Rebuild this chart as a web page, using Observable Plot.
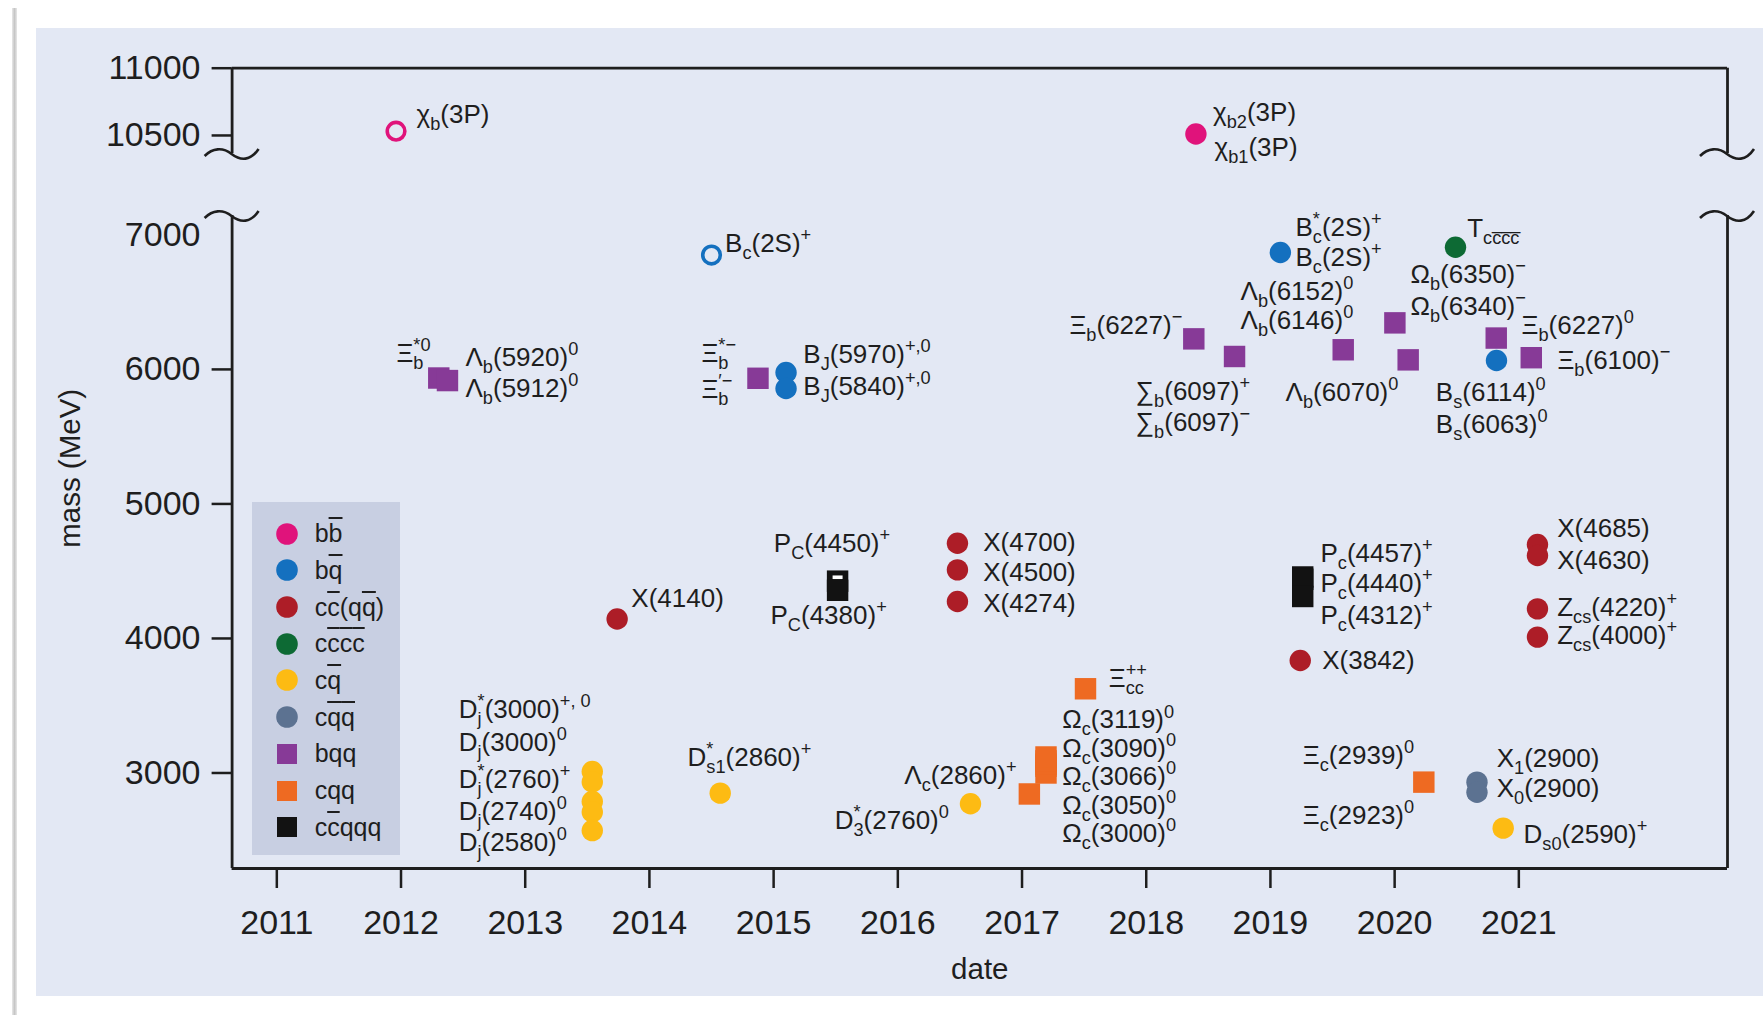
<!DOCTYPE html>
<html><head><meta charset="utf-8">
<script src="https://cdn.jsdelivr.net/npm/d3@7"></script>
<script src="https://cdn.jsdelivr.net/npm/@observablehq/plot@0.6"></script>
<style>
html,body{margin:0;padding:0;background:#fff;overflow:hidden;}
#wrap{position:relative;width:1763px;height:1015px;font-family:"Liberation Sans",Arial,sans-serif;color:#1e1e1e;}
#shadow{position:absolute;left:12px;top:8px;width:5px;height:1007px;background:linear-gradient(to right,#e8e8e8,#c6c6c6,#e8e8e8);}
#panel{position:absolute;left:36px;top:28px;width:1727px;height:968px;background:#e3e8f4;}
#chart{position:absolute;left:0;top:0;width:1763px;height:1015px;}
#legend{position:absolute;left:252px;top:502px;width:148px;height:353px;background:#c8cfe2;}
.lrow{position:absolute;left:0;height:36px;display:flex;align-items:center;font-size:25px;}
.ov{text-decoration:overline;text-decoration-thickness:2px;}
</style></head><body>
<div id="wrap"><div id="shadow"></div><div id="panel"></div><div id="chart"></div><div id="legend"></div></div>
<script>
// ---------- categories ----------
const categories = ["bb\u0305", "bq\u0305", "cc\u0305(qq\u0305)", "cc\u0305c\u0305c\u0305", "cq\u0305", "cq\u0305q\u0305", "bqq", "cqq", "cc\u0305qqq"];
const categoryColors = ["#e0137b", "#1470bf", "#ad1d27", "#0d6a34", "#fdbb13", "#5c7291", "#873a97", "#ee6a22", "#121212"];
const categoryShapes = ["circle", "circle", "circle", "circle", "circle", "circle", "square", "square", "square"];

// ---------- axes ----------
const xDomain = [2010.64, 2022.68];
const yearTicks = [2011, 2012, 2013, 2014, 2015, 2016, 2017, 2018, 2019, 2020, 2021];
const massExtent = [2290, 11000];
const axisGap = [7144, 10366];      // mass range cut out of the axis
const gapShown = 461;               // MeV-equivalent height kept for the cut
const massTicks = [3000, 4000, 5000, 6000, 10500, 11000];
const massTicksNoMark = [7000];

// ---------- points: [date, mass, style] ----------
const bbPoints = [[2011.96, 10532, "open"], [2018.40, 10511]];
const bqPoints = [[2014.50, 6850, "open"], [2015.10, 5977], [2015.10, 5858], [2019.08, 6869], [2020.82, 6066]];
const ccqqPoints = [[2013.74, 4145], [2016.48, 4708], [2016.48, 4510], [2016.48, 4275], [2019.24, 3836],
  [2021.15, 4698], [2021.15, 4617], [2021.15, 4220], [2021.15, 4010]];
const ccccPoints = [[2020.49, 6908]];
const cqPoints = [[2013.54, 3011], [2013.54, 2933], [2013.54, 2788], [2013.54, 2710], [2013.54, 2572],
  [2014.57, 2850], [2016.585, 2771], [2020.874, 2590]];
const cqqbarPoints = [[2020.663, 2932], [2020.663, 2857]];
const bqqPoints = [[2012.304, 5936], [2012.374, 5917], [2014.874, 5934], [2018.383, 6227], [2018.711, 6096],
  [2019.586, 6146], [2020.002, 6346], [2020.109, 6071], [2020.818, 6233], [2021.10, 6087]];
const cqqPoints = [[2017.511, 3626], [2017.059, 2844], [2017.193, 3000], [2017.193, 3050], [2017.193, 3066],
  [2017.193, 3090], [2017.193, 3119], [2020.235, 2932]];
const pentaPoints = [[2015.515, 4426], [2015.515, 4358], [2019.26, 4457], [2019.26, 4440], [2019.26, 4312]];
const pentaHighlight = [[2015.515, 4455]];

// ---------- labels: [text, date, mass] ----------
const labelsStart = [
  ["χ_{b}(3P)", 2012.125, 10656], ["χ_{b2}(3P)", 2018.538, 10670], ["χ_{b1}(3P)", 2018.55, 10412],
  ["B_{c}(2S)^{+}", 2014.609, 6936],
  ["Λ_{b}(5920)^{0}", 2012.519, 6088], ["Λ_{b}(5912)^{0}", 2012.519, 5860],
  ["Ξ_{b}^{*−}", 2014.419, 6118], ["Ξ_{b}^{′−}", 2014.419, 5852],
  ["B_{J}(5970)^{+,0}", 2015.239, 6110], ["B_{J}(5840)^{+,0}", 2015.239, 5875],
  ["∑_{b}(6097)^{+}", 2017.914, 5835], ["∑_{b}(6097)^{−}", 2017.914, 5605],
  ["Λ_{b}(6152)^{0}", 2018.759, 6578], ["Λ_{b}(6146)^{0}", 2018.759, 6362],
  ["Λ_{b}(6070)^{0}", 2019.122, 5830],
  ["B_{c}^{*}(2S)^{+}", 2019.202, 7055], ["B_{c}(2S)^{+}", 2019.202, 6832],
  ["T_{cc\u0305c\u0305c\u0305}", 2020.584, 7047],
  ["Ω_{b}(6350)^{−}", 2020.128, 6705], ["Ω_{b}(6340)^{−}", 2020.128, 6465],
  ["Ξ_{b}(6227)^{0}", 2021.022, 6326], ["Ξ_{b}(6100)^{−}", 2021.311, 6066],
  ["B_{s}(6114)^{0}", 2020.332, 5828], ["B_{s}(6063)^{0}", 2020.332, 5592],
  ["X(4140)", 2013.854, 4295],
  ["P_{C}(4450)^{+}", 2015.002, 4704], ["P_{C}(4380)^{+}", 2014.975, 4171],
  ["X(4700)", 2016.688, 4709], ["X(4500)", 2016.688, 4492], ["X(4274)", 2016.688, 4257],
  ["P_{c}(4457)^{+}", 2019.403, 4632], ["P_{c}(4440)^{+}", 2019.403, 4406], ["P_{c}(4312)^{+}", 2019.403, 4168],
  ["X(3842)", 2019.417, 3836],
  ["X(4685)", 2021.309, 4815], ["X(4630)", 2021.309, 4579],
  ["Z_{cs}(4220)^{+}", 2021.309, 4232], ["Z_{cs}(4000)^{+}", 2021.309, 4020],
  ["Ξ_{cc}^{++}", 2017.699, 3702],
  ["Ω_{c}(3119)^{0}", 2017.324, 3393], ["Ω_{c}(3090)^{0}", 2017.324, 3184], ["Ω_{c}(3066)^{0}", 2017.324, 2975],
  ["Ω_{c}(3050)^{0}", 2017.324, 2758], ["Ω_{c}(3000)^{0}", 2017.324, 2548],
  ["D_{s1}^{*}(2860)^{+}", 2014.307, 3115],
  ["D_{j}^{*}(3000)^{+, 0}", 2012.465, 3472], ["D_{j}(3000)^{0}", 2012.465, 3227],
  ["D_{j}^{*}(2760)^{+}", 2012.465, 2948], ["D_{j}(2740)^{0}", 2012.465, 2714], ["D_{j}(2580)^{0}", 2012.465, 2483],
  ["D_{s0}(2590)^{+}", 2021.038, 2543],
  ["X_{1}(2900)", 2020.822, 3105], ["X_{0}(2900)", 2020.822, 2882],
  ["Ξ_{c}(2939)^{0}", 2019.261, 3130], ["Ξ_{c}(2923)^{0}", 2019.261, 2684]
];
const labelsEnd = [
  ["Ξ_{b}^{*0}", 2012.238, 6118], ["Ξ_{b}(6227)^{−}", 2018.290, 6326],
  ["Λ_{c}(2860)^{+}", 2016.956, 2981], ["D_{3}^{*}(2760)^{0}", 2016.411, 2647]
];

// ---------- broken-axis mapping (mass -> axis coordinate) ----------
const [gLo, gHi] = axisGap;
const brk = m => m <= gLo ? m : m >= gHi ? m - (gHi - gLo) + gapShown : gLo + (m - gLo) / (gHi - gLo) * gapShown;
const unbrk = v => v <= gLo ? v : v >= gLo + gapShown ? v + (gHi - gLo) - gapShown : gLo + (v - gLo) / gapShown * (gHi - gLo);

// ---------- build table ----------
const seriesList = [bbPoints, bqPoints, ccqqPoints, ccccPoints, cqPoints, cqqbarPoints, bqqPoints, cqqPoints, pentaPoints];
const table = [];
seriesList.forEach((arr, i) => arr.forEach(([date, mass, style]) =>
  table.push({date, mass, cat: categories[i], shape: categoryShapes[i], open: style === "open"})));
const squares = table.filter(d => d.shape === "square");
const filledCircles = table.filter(d => d.shape === "circle" && !d.open);
const openCircles = table.filter(d => d.shape === "circle" && d.open);
const highlight = pentaHighlight.map(([date, mass]) => ({date, mass}));
const lblS = labelsStart.map(([t, date, mass]) => ({t, date, mass}));
const lblE = labelsEnd.map(([t, date, mass]) => ({t, date, mass}));
const frameSides = [];
xDomain.forEach(x => {
  frameSides.push({x, y1: gHi, y2: massExtent[1]});
  frameSides.push({x, y1: massExtent[0], y2: gLo});
});
const Y = d => brk(d.mass);

const ink = "#1e1e1e";
const barSymbol = {draw(ctx) { ctx.moveTo(-5, -1.8); ctx.lineTo(5, -1.8); ctx.lineTo(5, 1.8); ctx.lineTo(-5, 1.8); ctx.closePath(); }};

function breakMarks(index, scales) {
  const g = d3.create("svg:g").attr("fill", "none").attr("stroke", ink).attr("stroke-width", 2.6);
  for (const xv of xDomain) for (const yv of axisGap) {
    g.append("path")
      .attr("d", "M-27,3 C-19,-5 -9,-6 0,1 S19,8 27,-4")
      .attr("transform", `translate(${scales.x(xv)},${scales.y(brk(yv))})`);
  }
  return g.node();
}

const plot = Plot.plot({
  width: 1763, height: 1015,
  marginLeft: 231.6, marginRight: 36, marginTop: 67.7, marginBottom: 147,
  style: {background: "transparent", fontFamily: "'Liberation Sans', Arial, sans-serif", color: ink, overflow: "visible"},
  x: {domain: xDomain},
  y: {domain: massExtent.map(brk)},
  color: {domain: categories, range: categoryColors},
  marks: [
    Plot.ruleY([massExtent[1]], {y: brk, stroke: ink, strokeWidth: 2.8}),
    Plot.ruleY([massExtent[0]], {y: brk, stroke: ink, strokeWidth: 2.8}),
    Plot.ruleX(frameSides, {x: "x", y1: d => brk(d.y1), y2: d => brk(d.y2), stroke: ink, strokeWidth: 2.8}),
    breakMarks,
    Plot.axisX({ticks: yearTicks, tickFormat: d => String(d), tickSize: 20, tickPadding: 21, fontSize: 34, strokeWidth: 2.5, label: null}),
    Plot.axisY({ticks: massTicks.map(brk), tickFormat: v => String(Math.round(unbrk(v))), tickSize: 20, tickPadding: 11.6, fontSize: 34, strokeWidth: 2.5, label: null}),
    Plot.axisY({ticks: massTicksNoMark.map(brk), tickFormat: v => String(Math.round(unbrk(v))), tickSize: 0, tickPadding: 31.6, fontSize: 34, label: null}),
    Plot.text(["mass (MeV)"], {text: d => d, frameAnchor: "left", textAnchor: "middle", lineAnchor: "middle", dx: -161.6, rotate: -90, fontSize: 29.5, fill: ink}),
    Plot.text(["date"], {text: d => d, frameAnchor: "bottom", textAnchor: "middle", lineAnchor: "middle", dy: 101, fontSize: 29.5, fill: ink}),
    Plot.dot(squares, {x: "date", y: Y, fill: "cat", symbol: "square", r: 12.1}),
    Plot.dot(highlight, {x: "date", y: Y, fill: "white", symbol: barSymbol, r: 5}),
    Plot.dot(filledCircles, {x: "date", y: Y, fill: "cat", r: 10.7}),
    Plot.dot(openCircles, {x: "date", y: Y, stroke: "cat", fill: "none", strokeWidth: 3.6, r: 8.8}),
    Plot.text(lblS, {x: "date", y: Y, text: "t", textAnchor: "start", fontSize: 26, fill: ink}),
    Plot.text(lblE, {x: "date", y: Y, text: "t", textAnchor: "end", fontSize: 26, fill: ink})
  ]
});
document.getElementById("chart").appendChild(plot);

// ---------- rich text (sub/superscripts) ----------
const svgNS = "http://www.w3.org/2000/svg";
function parseRich(s) {
  const segs = []; let buf = ""; let i = 0;
  while (i < s.length) {
    const ch = s[i];
    if ((ch === "_" || ch === "^") && s[i + 1] === "{") {
      if (buf) { segs.push({k: "n", t: buf}); buf = ""; }
      const j = s.indexOf("}", i + 2);
      segs.push({k: ch === "_" ? "sub" : "sup", t: s.slice(i + 2, j)});
      i = j + 1;
    } else { buf += ch; i++; }
  }
  if (buf) segs.push({k: "n", t: buf});
  return segs;
}
plot.querySelectorAll("text").forEach(el => {
  const s = el.textContent;
  if (!/[_^]\{/.test(s)) return;
  const F = parseFloat(getComputedStyle(el).fontSize) || 26;
  const segs = parseRich(s);
  while (el.firstChild) el.removeChild(el.firstChild);
  let cur = 0; const spans = [];
  segs.forEach(sg => {
    const ts = document.createElementNS(svgNS, "tspan");
    ts.textContent = sg.t;
    const target = sg.k === "sub" ? F * 0.27 : sg.k === "sup" ? -F * 0.42 : 0;
    if (target !== cur) ts.setAttribute("dy", target - cur);
    cur = target;
    if (sg.k !== "n") ts.setAttribute("font-size", F * 0.7);
    el.appendChild(ts); spans.push(ts);
  });
  segs.forEach((sg, k) => {
    if (sg.k === "sup" && k > 0 && segs[k - 1].k === "sub") {
      const wSub = spans[k - 1].getComputedTextLength();
      const wSup = spans[k].getComputedTextLength();
      spans[k].setAttribute("dx", -wSub);
      if (spans[k + 1]) spans[k + 1].setAttribute("dx", Math.max(0, wSub - wSup));
    }
  });
});

// ---------- legend ----------
const legend = document.getElementById("legend");
const overline = s => s.replace(/(.)\u0305/g, '<span class="ov">$1</span>');
categories.forEach((c, i) => {
  const row = document.createElement("div");
  row.className = "lrow";
  row.style.top = (13.6 + i * 36.7) + "px";
  const sw = categoryShapes[i] === "circle"
    ? `<circle cx="12" cy="12" r="10.8" fill="${categoryColors[i]}"/>`
    : `<rect x="2" y="2" width="20" height="20" fill="${categoryColors[i]}"/>`;
  row.innerHTML = `<svg width="24" height="24" style="margin-left:22.7px;margin-right:16px">${sw}</svg><span>${overline(c)}</span>`;
  legend.appendChild(row);
});
</script>
</body></html>
